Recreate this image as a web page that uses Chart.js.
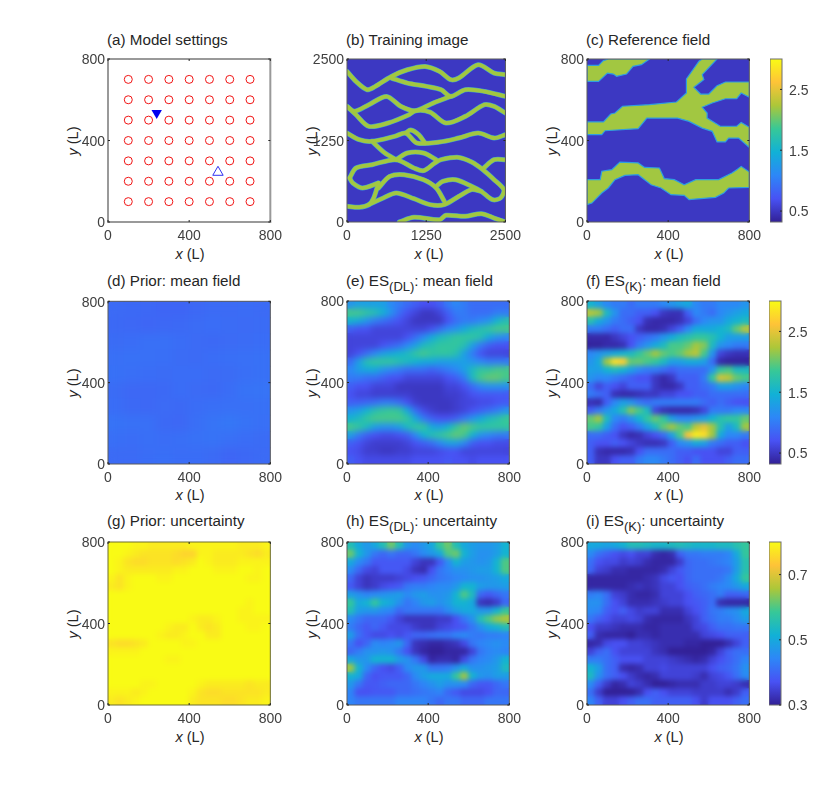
<!DOCTYPE html>
<html>
<head>
<meta charset="utf-8">
<style>
  html, body { margin: 0; padding: 0; background: #fff; }
  body { width: 830px; height: 792px; position: relative; overflow: hidden; font-family: "Liberation Sans", Arial, sans-serif; color: #262626; }
  canvas { position: absolute; }
  .lab { position: absolute; font-size: 14.5px; line-height: 16px; white-space: nowrap; }
  .title { font-size: 15.2px; }
  .lab sub { font-size: 13px; line-height: 0; vertical-align: -5px; }
  .ylab { transform: translate(-50%, -50%) rotate(-90deg); }
  .xlab { transform: translate(-50%, -50%); }
</style>
<script src="https://cdn.jsdelivr.net/npm/chart.js@4"></script>
</head>
<body>
<script>
// tick labels
const fieldTicks = [0, 400, 800];
const trainingTicks = [0, 1250, 2500];
const meanBarTicks = [0.5, 1.5, 2.5];
const uncBarTicks = [0.3, 0.5, 0.7];

// colour ranges
const meanRange = [0.32, 3.0];
const uncRange = [0.3, 0.8];

// (a) model settings
const wellX = [100, 200, 300, 400, 500, 600, 700];
const wellY = [700, 600, 500, 400, 300, 200, 100];
const injector = [240, 535];
const observer = [542, 244];

// (b) training image channels, data units
const chanA = [[0,2310],[142,2156],[319,2029],[446,2080],[700,2233],[953,2335],[1232,2386],[1460,2310],[1638,2182],[1764,2208],[2069,2412],[2322,2284],[2500,2259]];
const chanB = [[700,2208],[953,2131],[1257,2080],[1486,2029],[1638,1926],[1866,2029],[2170,2003],[2500,1926]];
const chanC = [[0,1773],[117,1697],[345,1799],[624,1926],[852,1773],[1080,1707],[1359,1824],[1638,1926]];
const chanD = [[0,1773],[142,1645],[345,1467],[649,1518],[979,1645],[1080,1707],[1308,1686],[1562,1518],[1866,1620],[2170,1799],[2322,1773],[2500,1671]];
const chanE = [[0,1364],[193,1262],[395,1237],[750,1313],[928,1364],[1105,1211],[1460,1226],[1764,1288],[2069,1364],[2322,1288],[2500,1339]];
const chanF = [[928,1364],[1004,1410],[1131,1339],[1232,1211]];
const chanG = [[395,1237],[598,1058],[776,956]];
const chanH = [[41,675],[142,828],[395,879],[776,956],[1055,828],[1207,787],[1384,904],[1486,956],[1764,991],[1967,920],[2145,802],[2322,649],[2474,496],[2423,368],[2297,342],[2119,470],[1967,547],[1714,649],[1511,623],[1409,547]];
const chanI = [[776,956],[953,1058],[1207,1058],[1409,956]];
const chanJ = [[2145,818],[2322,956],[2500,956]];
const chanK = [[41,675],[91,598],[243,521],[497,598]];
const chanL = [[497,598],[421,368],[345,266],[193,225],[0,240]];
const chanM = [[497,521],[674,700],[902,726],[1207,649],[1409,521],[1536,317]];
const chanN = [[345,266],[573,368],[776,445],[1055,358],[1308,266],[1536,266],[1764,393],[1967,496],[2119,470]];
const chanQ = [[826,0],[1055,72],[1460,36],[1562,102],[1866,87],[2119,128],[2322,61],[2500,0]];

// (c) reference field channel outlines, data units
const refTop = [[0,769],[57,769],[81,792],[105,800],[308,800],[268,772],[227,764],[195,726],[146,715],[130,726],[101,731],[57,690],[0,690],[0,769]];
const refMid = [[0,491],[81,491],[117,530],[138,535],[175,568],[308,576],[441,589],[490,633],[490,702],[552,789],[568,800],[641,800],[568,723],[576,699],[527,661],[560,628],[600,628],[641,669],[682,687],[800,687],[800,612],[760,633],[738,605],[682,605],[617,584],[568,563],[592,535],[592,510],[657,470],[738,470],[760,489],[800,465],[800,366],[747,412],[698,412],[682,393],[641,393],[617,445],[568,461],[503,494],[446,510],[295,510],[252,458],[89,448],[73,429],[0,429],[0,491]];
const refLow = [[0,208],[65,208],[73,249],[122,257],[162,294],[252,290],[284,268],[357,265],[381,213],[430,208],[479,183],[536,208],[649,208],[714,240],[738,257],[760,273],[800,245],[800,170],[698,167],[674,142],[633,121],[503,110],[479,131],[414,134],[365,167],[316,183],[252,232],[187,229],[138,208],[105,167],[73,142],[24,93],[0,85],[0,208]];
const refBackground = 0.5;
const refChannel = 2.2;
const trainBackground = 0.5;
const trainChannel = 2.2;

// (d) prior mean, rows from top to bottom
const priorMean = [
  [0.88,0.87,0.86,0.84,0.84,0.86,0.88,0.88,0.89,0.88],
  [0.87,0.86,0.85,0.86,0.87,0.89,0.90,0.89,0.88,0.89],
  [0.89,0.90,0.92,0.92,0.90,0.88,0.87,0.88,0.89,0.90],
  [0.92,0.93,0.92,0.91,0.89,0.88,0.90,0.91,0.92,0.93],
  [0.93,0.91,0.90,0.89,0.90,0.90,0.88,0.89,0.91,0.93],
  [0.89,0.86,0.86,0.87,0.90,0.88,0.87,0.90,0.94,0.95],
  [0.90,0.87,0.86,0.88,0.87,0.90,0.91,0.92,0.92,0.93],
  [0.94,0.93,0.92,0.87,0.86,0.91,0.95,0.97,0.94,0.92],
  [0.91,0.90,0.91,0.90,0.91,0.93,0.94,0.92,0.90,0.89],
  [0.88,0.88,0.90,0.91,0.90,0.90,0.88,0.85,0.86,0.88]
];

// (e) ES(DL) mean
const dlMean = [
  [1.2,1.3,1.3,1.3,1.3,1.1,1.0,0.9,0.8,0.7,0.7,0.8,1.0,1.1,1.0,0.9,0.9,0.9,0.9,0.9],
  [1.9,1.9,1.8,1.7,1.5,1.2,0.9,0.7,0.6,0.5,0.5,0.6,0.8,1.0,1.0,0.9,0.9,0.9,1.0,1.0],
  [1.5,1.4,1.2,1.0,0.9,0.8,0.7,0.6,0.5,0.5,0.5,0.5,0.7,0.9,1.0,1.0,1.1,1.2,1.5,1.7],
  [0.8,0.7,0.7,0.6,0.6,0.6,0.6,0.6,0.6,0.6,0.7,0.9,1.1,1.2,1.4,1.6,1.7,1.8,1.9,1.9],
  [0.6,0.6,0.6,0.6,0.6,0.6,0.6,0.7,0.9,1.1,1.4,1.6,1.7,1.8,1.8,1.8,1.7,1.4,1.2,1.1],
  [0.6,0.6,0.6,0.6,0.7,0.8,0.9,1.1,1.3,1.6,1.7,1.8,1.8,1.8,1.7,1.3,1.0,0.8,0.7,0.7],
  [0.6,0.7,0.9,1.1,1.3,1.4,1.5,1.6,1.8,1.9,1.8,1.8,1.8,1.7,1.3,1.0,0.7,0.6,0.6,0.6],
  [0.9,1.3,1.7,1.8,1.8,1.8,1.7,1.6,1.5,1.4,1.4,1.3,1.3,1.3,1.3,1.2,1.1,1.0,1.0,1.0],
  [1.1,1.3,1.4,1.4,1.2,1.1,1.0,0.9,0.9,0.9,0.8,0.9,1.0,1.1,1.3,1.6,1.8,1.8,1.9,1.9],
  [1.0,1.0,0.9,0.9,0.8,0.7,0.7,0.6,0.6,0.6,0.6,0.6,0.7,0.8,1.0,1.6,1.9,2.0,2.0,1.9],
  [0.8,0.7,0.7,0.6,0.6,0.6,0.5,0.5,0.5,0.5,0.5,0.5,0.6,0.6,0.7,0.9,1.1,1.2,1.2,1.2],
  [0.7,0.6,0.6,0.55,0.55,0.55,0.55,0.55,0.5,0.5,0.5,0.5,0.55,0.55,0.6,0.7,0.75,0.75,0.75,0.75],
  [0.8,0.8,0.85,0.9,1.0,1.0,0.9,0.7,0.55,0.5,0.5,0.5,0.5,0.55,0.6,0.6,0.65,0.65,0.7,0.75],
  [1.2,1.3,1.5,1.7,1.8,1.85,1.8,1.4,0.9,0.65,0.55,0.5,0.5,0.55,0.6,0.7,0.8,0.9,1.0,1.2],
  [1.5,1.6,1.8,1.9,1.9,1.9,1.9,1.8,1.4,1.0,0.8,0.7,0.7,0.8,1.0,1.2,1.4,1.6,1.7,1.85],
  [1.9,1.8,1.6,1.3,1.2,1.2,1.3,1.6,1.8,1.8,1.4,1.3,1.5,1.8,2.0,1.9,1.8,1.8,1.8,1.8],
  [1.3,1.0,0.8,0.7,0.65,0.65,0.7,0.8,1.1,1.5,1.7,1.8,1.9,2.0,1.9,1.5,1.2,1.1,1.0,1.0],
  [0.8,0.7,0.6,0.55,0.55,0.55,0.55,0.6,0.7,0.8,0.9,1.1,1.3,1.3,1.1,0.8,0.7,0.7,0.65,0.65],
  [0.7,0.65,0.55,0.55,0.5,0.5,0.55,0.55,0.6,0.6,0.6,0.65,0.7,0.7,0.6,0.6,0.6,0.6,0.6,0.6],
  [0.8,0.7,0.65,0.65,0.65,0.65,0.65,0.65,0.7,0.7,0.7,0.7,0.75,0.7,0.7,0.65,0.7,0.7,0.7,0.7]
];

// (f) ES(K) mean
const kMean = [
  [1.5,1.3,1.1,1.0,1.0,0.9,1.0,1.0,1.0,1.1,1.2,1.3,1.4,1.1,1.0,1.0,1.1,1.1,1.1,1.2],
  [2.3,2.2,1.6,1.2,0.9,0.9,0.8,0.8,0.7,0.5,0.45,0.45,0.8,1.1,1.0,0.9,1.1,1.2,1.3,1.4],
  [1.7,1.4,1.2,1.0,0.9,0.8,0.7,0.45,0.4,0.4,0.4,0.45,0.6,0.9,1.1,1.2,1.2,1.4,1.5,1.6],
  [1.0,1.0,0.9,0.8,0.9,0.9,0.5,0.4,0.4,0.45,0.6,0.8,1.1,1.4,1.4,1.4,1.5,1.6,2.0,2.3],
  [0.4,0.4,0.4,0.5,0.6,0.7,0.8,0.9,1.0,1.2,1.4,1.6,1.7,1.8,1.8,1.7,1.5,1.3,1.3,1.3],
  [0.35,0.35,0.4,0.4,0.45,0.7,1.0,1.2,1.4,1.6,1.9,1.9,2.0,2.2,2.1,1.6,1.2,1.1,1.0,1.0],
  [1.1,1.2,1.3,1.4,1.5,1.6,1.8,2.0,2.2,2.0,1.9,2.0,2.2,2.3,1.9,1.2,0.6,0.5,0.45,0.45],
  [1.2,1.4,2.2,2.8,2.7,2.0,2.0,1.9,1.8,1.6,1.3,1.3,1.4,1.4,1.3,0.9,0.4,0.35,0.35,0.35],
  [1.3,1.3,1.5,1.6,1.5,1.3,1.1,1.0,1.0,0.9,0.8,0.9,0.9,0.9,0.9,1.2,1.8,1.9,1.6,1.6],
  [1.2,1.1,1.1,1.0,0.9,0.8,0.7,0.7,0.5,0.4,0.5,0.8,0.8,0.8,1.0,1.8,2.4,2.3,2.0,1.9],
  [0.9,0.6,0.8,0.7,0.6,0.8,0.8,0.8,0.5,0.4,0.4,0.5,0.8,0.8,0.9,1.0,1.3,1.3,1.2,1.1],
  [1.0,0.9,0.8,0.45,0.4,0.4,0.45,0.5,0.5,0.6,0.6,0.7,0.7,0.8,0.8,0.9,0.9,0.9,0.9,0.9],
  [0.45,0.4,0.8,1.1,1.3,1.2,1.0,0.9,1.0,1.0,1.0,1.0,1.0,1.0,0.9,0.8,0.9,0.8,0.7,0.7],
  [0.8,1.0,1.2,1.4,1.7,2.1,1.9,1.6,0.6,0.45,0.4,0.4,0.4,0.45,0.6,1.0,1.0,1.0,1.1,1.1],
  [2.0,2.2,1.6,1.1,1.0,1.2,1.5,1.8,2.0,1.8,1.3,1.1,1.1,1.2,1.3,1.5,1.7,1.8,1.8,2.0],
  [1.9,1.8,1.3,0.9,0.7,0.8,1.0,1.3,1.6,2.0,2.2,2.0,1.9,2.3,2.5,2.2,1.7,1.3,1.6,2.2],
  [0.9,0.9,0.8,0.7,0.5,0.4,0.45,0.6,0.7,0.9,1.3,1.9,2.6,2.9,2.8,2.2,1.4,1.1,1.1,1.0],
  [0.8,0.7,0.7,0.8,0.7,0.6,0.5,0.45,0.45,0.5,0.8,1.1,1.2,1.4,1.3,1.0,0.9,0.8,0.8,0.7],
  [0.8,0.45,0.4,0.4,0.4,0.45,0.7,0.9,0.9,0.9,0.9,0.8,0.8,0.7,0.7,0.7,0.6,0.6,0.8,0.8],
  [0.8,0.5,0.5,0.7,0.8,0.8,1.0,1.1,1.1,1.0,0.9,0.8,0.7,0.9,0.7,0.7,0.7,0.8,0.9,0.9]
];

// (g) prior uncertainty
const priorUnc = [
  [.80,.80,.80,.79,.79,.78,.78,.78,.78,.78,.79,.79,.79,.79,.79,.79,.78,.78,.78,.79],
  [.80,.80,.79,.78,.77,.77,.77,.77,.76,.75,.75,.79,.79,.78,.78,.78,.78,.77,.76,.78],
  [.80,.79,.77,.76,.76,.77,.77,.77,.76,.77,.78,.80,.79,.78,.78,.78,.79,.79,.79,.79],
  [.80,.79,.78,.78,.78,.78,.78,.78,.79,.79,.80,.80,.80,.79,.79,.79,.80,.80,.79,.80],
  [.79,.77,.79,.80,.80,.80,.79,.79,.80,.80,.80,.80,.80,.80,.80,.80,.80,.79,.79,.80],
  [.78,.77,.79,.80,.80,.80,.80,.80,.80,.80,.80,.80,.80,.80,.80,.80,.80,.80,.80,.80],
  [.80,.80,.80,.80,.80,.80,.80,.80,.80,.80,.80,.80,.80,.80,.80,.80,.80,.80,.80,.80],
  [.80,.80,.80,.80,.80,.80,.80,.80,.80,.80,.80,.80,.80,.80,.80,.80,.80,.79,.80,.80],
  [.80,.80,.80,.80,.80,.80,.80,.80,.80,.80,.80,.80,.80,.80,.80,.80,.79,.79,.80,.80],
  [.80,.80,.80,.80,.80,.80,.80,.80,.80,.80,.79,.78,.78,.79,.80,.80,.79,.79,.79,.79],
  [.80,.80,.80,.80,.80,.80,.80,.79,.78,.78,.80,.78,.77,.78,.80,.80,.80,.79,.79,.80],
  [.80,.80,.80,.80,.80,.80,.79,.78,.78,.79,.80,.80,.78,.78,.80,.80,.80,.80,.80,.80],
  [.77,.76,.76,.77,.78,.80,.80,.80,.80,.79,.79,.80,.80,.80,.80,.80,.80,.80,.80,.80],
  [.79,.79,.79,.79,.80,.80,.80,.80,.80,.80,.80,.80,.80,.80,.80,.80,.80,.80,.80,.80],
  [.80,.80,.80,.80,.80,.80,.80,.79,.79,.80,.80,.80,.80,.80,.80,.80,.80,.80,.80,.80],
  [.80,.80,.80,.80,.80,.80,.80,.80,.80,.80,.80,.80,.80,.80,.80,.80,.80,.80,.80,.80],
  [.80,.80,.80,.80,.80,.80,.80,.80,.80,.80,.80,.80,.80,.80,.80,.80,.80,.80,.80,.80],
  [.80,.80,.80,.80,.79,.79,.80,.80,.80,.80,.80,.79,.78,.78,.78,.78,.78,.77,.78,.78],
  [.79,.79,.79,.78,.79,.80,.80,.80,.80,.80,.79,.77,.76,.76,.77,.77,.77,.77,.77,.78],
  [.78,.77,.78,.79,.80,.80,.80,.80,.80,.80,.78,.77,.77,.77,.76,.76,.77,.78,.78,.79]
];

// (h) ES(DL) uncertainty
const dlUnc = [
  [.55,.50,.47,.50,.55,.62,.55,.47,.45,.47,.50,.58,.62,.55,.50,.48,.47,.47,.48,.52],
  [.62,.52,.47,.42,.40,.42,.40,.40,.42,.45,.47,.50,.60,.62,.52,.48,.46,.46,.48,.52],
  [.50,.45,.42,.38,.38,.38,.38,.38,.35,.33,.33,.38,.45,.52,.48,.47,.46,.47,.52,.60],
  [.45,.40,.36,.35,.38,.38,.38,.36,.33,.32,.37,.42,.44,.46,.46,.47,.48,.48,.52,.60],
  [.40,.35,.33,.34,.34,.34,.35,.36,.37,.38,.40,.42,.43,.44,.45,.46,.46,.47,.48,.50],
  [.38,.35,.33,.34,.36,.37,.38,.42,.43,.43,.44,.45,.45,.47,.52,.52,.48,.47,.47,.48],
  [.48,.46,.44,.45,.46,.47,.48,.45,.47,.48,.46,.46,.47,.52,.60,.54,.40,.38,.40,.42],
  [.58,.50,.52,.58,.52,.50,.46,.42,.44,.47,.48,.46,.48,.52,.52,.50,.33,.32,.34,.40],
  [.55,.48,.47,.47,.45,.44,.40,.42,.42,.42,.42,.42,.45,.48,.50,.50,.47,.47,.52,.58],
  [.45,.42,.40,.40,.40,.38,.35,.33,.33,.33,.33,.34,.34,.37,.42,.46,.55,.60,.64,.66],
  [.43,.40,.38,.40,.38,.36,.36,.36,.34,.33,.33,.35,.36,.37,.38,.42,.46,.50,.52,.55],
  [.48,.41,.38,.36,.36,.37,.36,.38,.40,.40,.41,.42,.42,.44,.45,.43,.42,.43,.43,.44],
  [.42,.37,.40,.45,.44,.45,.47,.40,.33,.32,.31,.31,.32,.33,.36,.42,.44,.45,.46,.45],
  [.40,.43,.46,.46,.47,.46,.42,.37,.33,.31,.30,.30,.31,.31,.31,.35,.42,.44,.45,.44],
  [.50,.47,.47,.52,.52,.52,.48,.46,.42,.36,.31,.32,.32,.31,.36,.42,.44,.45,.47,.52],
  [.65,.52,.45,.40,.37,.36,.39,.45,.47,.47,.42,.42,.43,.46,.50,.46,.46,.47,.48,.54],
  [.52,.50,.40,.37,.38,.38,.38,.40,.45,.48,.50,.50,.50,.58,.65,.52,.47,.46,.48,.48],
  [.47,.42,.38,.38,.39,.40,.40,.40,.42,.44,.46,.48,.46,.46,.45,.40,.38,.38,.40,.42],
  [.44,.37,.37,.38,.38,.38,.40,.40,.41,.42,.43,.44,.40,.38,.36,.36,.36,.37,.40,.40],
  [.44,.42,.42,.42,.42,.42,.44,.44,.44,.44,.42,.40,.42,.42,.40,.40,.40,.42,.42,.42]
];

// (i) ES(K) uncertainty
const kUnc = [
  [.50,.50,.49,.50,.52,.55,.55,.54,.53,.53,.54,.55,.54,.53,.53,.53,.54,.54,.56,.58],
  [.45,.41,.39,.37,.36,.37,.35,.35,.32,.31,.32,.39,.42,.42,.43,.43,.43,.44,.50,.58],
  [.41,.37,.36,.36,.34,.35,.34,.32,.31,.31,.31,.34,.40,.41,.41,.42,.43,.44,.48,.56],
  [.40,.35,.34,.32,.32,.31,.31,.31,.31,.32,.35,.38,.40,.41,.41,.41,.41,.42,.48,.56],
  [.31,.31,.31,.31,.31,.31,.31,.32,.33,.36,.38,.37,.40,.41,.41,.41,.42,.45,.50,.58],
  [.31,.31,.31,.31,.31,.32,.33,.32,.33,.35,.35,.37,.39,.40,.41,.43,.44,.45,.47,.50],
  [.43,.44,.41,.35,.34,.32,.31,.31,.32,.35,.35,.35,.37,.39,.40,.41,.43,.39,.39,.40],
  [.46,.46,.41,.37,.35,.32,.32,.32,.33,.34,.35,.35,.37,.38,.39,.41,.32,.31,.31,.31],
  [.45,.44,.39,.37,.39,.36,.34,.35,.35,.32,.32,.32,.35,.37,.39,.42,.43,.45,.46,.50],
  [.42,.39,.37,.35,.35,.36,.35,.32,.31,.31,.31,.31,.33,.35,.39,.41,.43,.43,.45,.48],
  [.37,.34,.34,.33,.32,.32,.32,.31,.31,.32,.32,.32,.32,.35,.36,.39,.41,.41,.42,.42],
  [.39,.32,.31,.31,.31,.30,.32,.32,.31,.32,.32,.32,.32,.32,.35,.36,.37,.39,.39,.39],
  [.31,.32,.36,.37,.37,.35,.35,.34,.33,.32,.32,.32,.31,.31,.30,.30,.30,.32,.35,.39],
  [.35,.39,.41,.37,.35,.35,.35,.35,.33,.32,.30,.30,.30,.30,.30,.31,.35,.39,.41,.41],
  [.43,.43,.41,.39,.37,.37,.37,.35,.35,.35,.34,.33,.32,.31,.32,.35,.37,.39,.41,.44],
  [.52,.48,.41,.39,.32,.31,.32,.35,.35,.36,.35,.35,.35,.35,.35,.37,.39,.40,.42,.46],
  [.54,.46,.41,.39,.37,.34,.32,.31,.32,.35,.35,.35,.35,.34,.32,.35,.36,.38,.41,.45],
  [.45,.39,.34,.31,.32,.35,.34,.32,.30,.30,.31,.32,.32,.32,.34,.34,.35,.35,.34,.32],
  [.41,.34,.30,.30,.30,.30,.32,.37,.39,.37,.35,.35,.35,.34,.34,.34,.34,.32,.34,.39],
  [.44,.39,.35,.35,.37,.39,.41,.41,.39,.39,.39,.39,.39,.37,.34,.37,.37,.37,.39,.41]
];

// parula
const parula = [[50,32,150],[72,82,244],[45,135,247],[17,177,214],[55,200,151],[172,199,57],[254,195,56],[249,251,21]];

function colorOf(v, range) {
  let t = (v - range[0]) / (range[1] - range[0]);
  t = Math.max(0, Math.min(1, t)) * (parula.length - 1);
  const i = Math.min(Math.floor(t), parula.length - 2);
  const f = t - i;
  const c = parula[i].map((p, k) => Math.round(p + (parula[i + 1][k] - p) * f));
  return `rgb(${c[0]},${c[1]},${c[2]})`;
}

Chart.defaults.font.family = "'Liberation Sans', Arial, sans-serif";
Chart.defaults.font.size = 14;
Chart.defaults.color = "#404040";
Chart.defaults.animation = false;

const leftGap = 50, topGap = 12, rightGap = 16, bottomGap = 32;
const plotW = 164, plotH = 163;

function addLabel(html, x, y, cls) {
  const d = document.createElement("div");
  d.className = "lab " + (cls || "");
  d.innerHTML = html;
  d.style.left = x + "px";
  d.style.top = y + "px";
  document.body.appendChild(d);
}

function newCanvas(left, top, w, h) {
  const c = document.createElement("canvas");
  c.width = w;
  c.height = h;
  c.style.left = left + "px";
  c.style.top = top + "px";
  c.style.width = w + "px";
  c.style.height = h + "px";
  document.body.appendChild(c);
  return c;
}

// fills the plot, softens the cells and draws the box with inward ticks
function panelPlugin(o) {
  return {
    id: "panel",
    beforeDatasetsDraw(chart) {
      if (!o.background) return;
      const a = chart.chartArea, c = chart.ctx;
      c.fillStyle = o.background;
      c.fillRect(a.left, a.top, a.width, a.height);
    },
    afterDatasetsDraw(chart) {
      if (!o.blur) return;
      const a = chart.chartArea, c = chart.ctx, r = chart.currentDevicePixelRatio;
      c.save();
      c.beginPath();
      c.rect(a.left, a.top, a.width, a.height);
      c.clip();
      c.filter = `blur(${o.blur}px)`;
      c.drawImage(chart.canvas, a.left * r, a.top * r, a.width * r, a.height * r, a.left, a.top, a.width, a.height);
      c.restore();
    },
    afterDraw(chart) {
      const a = chart.chartArea, c = chart.ctx;
      c.save();
      c.strokeStyle = o.frameColor;
      c.lineWidth = o.frameWidth;
      c.strokeRect(a.left, a.top, a.width, a.height);
      c.strokeStyle = "#262626";
      c.lineWidth = 1;
      c.beginPath();
      if (chart.scales.x.options.display) {
        chart.scales.x.ticks.forEach(t => {
          const p = chart.scales.x.getPixelForValue(t.value);
          c.moveTo(p, a.bottom); c.lineTo(p, a.bottom - 2);
          c.moveTo(p, a.top); c.lineTo(p, a.top + 2);
        });
      }
      chart.scales.y.ticks.forEach(t => {
        const p = chart.scales.y.getPixelForValue(t.value);
        if (chart.scales.x.options.display) {
          c.moveTo(a.left, p); c.lineTo(a.left + 2, p);
        }
        c.moveTo(a.right, p); c.lineTo(a.right - 2, p);
      });
      c.stroke();
      c.restore();
    }
  };
}

function axis(ticks, max, fitKey, fitValue, position) {
  return {
    type: "linear",
    position: position,
    min: 0,
    max: max,
    grid: { display: false, drawTicks: false },
    border: { display: false },
    afterBuildTicks(s) { s.ticks = ticks.map(v => ({ value: v })); },
    afterFit(s) { s[fitKey] = fitValue; },
    ticks: {
      padding: fitKey === "height" ? 6 : 3,
      labelOffset: fitKey === "height" ? 0 : 1.5,
      autoSkip: false,
      maxRotation: 0,
      color: "#404040",
      callback: v => String(v)
    }
  };
}

function makePanel(box, datasets, ticks, max, opts) {
  const cv = newCanvas(box.x - leftGap, box.y - topGap, leftGap + box.w + rightGap, topGap + box.h + bottomGap);
  return new Chart(cv, {
    type: "scatter",
    data: { datasets: datasets },
    options: {
      responsive: false,
      layout: { padding: { top: topGap, right: rightGap, left: 0, bottom: 0 } },
      plugins: { legend: { display: false }, tooltip: { enabled: false } },
      scales: {
        x: axis(ticks, max, "height", bottomGap, "bottom"),
        y: axis(ticks, max, "width", leftGap, "left")
      }
    },
    plugins: [panelPlugin(opts)]
  });
}

// one square point per grid cell, coloured by its value
function fieldDataset(grid, range) {
  const n = grid.length;
  const pts = [], cols = [];
  grid.forEach((row, i) => row.forEach((v, j) => {
    pts.push({ x: (j + 0.5) * 800 / row.length, y: 800 - (i + 0.5) * 800 / n });
    cols.push(colorOf(v, range));
  }));
  return {
    data: pts,
    pointStyle: "rect",
    pointBackgroundColor: cols,
    pointBorderWidth: 0,
    clip: 0,
    pointRadius: (plotW / n + 1) / Math.SQRT2
  };
}

function toPoints(list) {
  return list.map(p => ({ x: p[0], y: p[1] }));
}

function colorBar(box, range, ticks) {
  const cv = newCanvas(box.x, box.y - topGap, box.w + 44, topGap + box.h + 10);
  new Chart(cv, {
    type: "bar",
    data: {
      labels: ["c"],
      datasets: [{
        data: [[range[0], range[1]]],
        barPercentage: 1,
        categoryPercentage: 1,
        backgroundColor(ctx) {
          const a = ctx.chart.chartArea;
          if (!a) return "#888";
          const g = ctx.chart.ctx.createLinearGradient(0, a.bottom, 0, a.top);
          parula.forEach((c, i) => g.addColorStop(i / (parula.length - 1), `rgb(${c[0]},${c[1]},${c[2]})`));
          return g;
        }
      }]
    },
    options: {
      responsive: false,
      layout: { padding: { top: topGap, bottom: 10 } },
      plugins: { legend: { display: false }, tooltip: { enabled: false } },
      scales: {
        x: { display: false, offset: true },
        y: {
          position: "right",
          min: range[0],
          max: range[1],
          grid: { display: false, drawTicks: false },
          border: { display: false },
          afterBuildTicks(s) { s.ticks = ticks.map(v => ({ value: v })); },
          afterFit(s) { s.width = 44; s.paddingTop = 0; s.paddingBottom = 0; },
          ticks: { padding: 7, labelOffset: 1.5, color: "#404040", callback: v => v.toFixed(1) }
        }
      }
    },
    plugins: [panelPlugin({ frameColor: "#6e6e6e", frameWidth: 1 })]
  });
}

const colLeft = [108, 347, 587];
const rowTop = [59, 301, 542];
const boxOf = (c, r) => ({ x: colLeft[c], y: rowTop[r], w: plotW, h: plotH });

const titles = [
  "(a) Model settings", "(b) Training image", "(c) Reference field",
  "(d) Prior: mean field", "(e) ES<sub>(DL)</sub>: mean field", "(f) ES<sub>(K)</sub>: mean field",
  "(g) Prior: uncertainty", "(h) ES<sub>(DL)</sub>: uncertainty", "(i) ES<sub>(K)</sub>: uncertainty"
];
const titleTop = [32, 273, 513];
const xLabelMid = [254, 495, 737];

rowTop.forEach((_, r) => colLeft.forEach((_, c) => {
  const b = boxOf(c, r);
  addLabel(titles[r * 3 + c], b.x - 1, titleTop[r], "title");
  addLabel("<i>x</i> (L)", b.x + plotW / 2, xLabelMid[r], "xlab");
  addLabel("<i>y</i> (L)", b.x - 35, b.y + plotH / 2, "ylab");
}));

// (a)
const wellPts = [];
wellY.forEach(y => wellX.forEach(x => wellPts.push({ x: x, y: y })));
makePanel(boxOf(0, 0), [
  { data: [{ x: injector[0], y: injector[1] }], pointStyle: "triangle", pointRotation: 180, pointRadius: 6, pointBorderWidth: 0, pointBackgroundColor: "#0000f0" },
  { data: [{ x: observer[0], y: observer[1] }], pointStyle: "triangle", pointRadius: 6, pointBorderWidth: 1, pointBorderColor: "#3030f0", pointBackgroundColor: "rgba(0,0,0,0)" },
  { data: wellPts, pointStyle: "circle", pointRadius: 4, pointBorderWidth: 1, pointBorderColor: "#f01414", pointBackgroundColor: "rgba(0,0,0,0)" }
], fieldTicks, 800, { frameColor: "#999999", frameWidth: 2 });

// (b) first dataset is painted last, so the green goes first
const channels = [chanA, chanB, chanC, chanD, chanE, chanF, chanG, chanH, chanI, chanJ, chanK, chanL, chanM, chanN, chanQ];
const chanStyle = (list, color, w) => ({ data: toPoints(list), showLine: true, tension: 0.3, pointRadius: 0, borderColor: color, borderWidth: w, borderJoinStyle: "round", borderCapStyle: "round" });
makePanel(boxOf(1, 0),
  channels.map(l => chanStyle(l, colorOf(trainChannel, meanRange), 4)).concat(channels.map(l => chanStyle(l, "#3f9fd0", 5))),
  trainingTicks, 2500, { background: colorOf(trainBackground, meanRange), frameColor: "#5a5a5a", frameWidth: 1 });

// (c)
makePanel(boxOf(2, 0), [refTop, refMid, refLow].map(l => ({
  data: toPoints(l), showLine: true, pointRadius: 0, fill: "shape",
  backgroundColor: colorOf(refChannel, meanRange), borderColor: "#2f9fe0", borderWidth: 1.2
})), fieldTicks, 800, { background: colorOf(refBackground, meanRange), frameColor: "#5a5a5a", frameWidth: 1 });
colorBar({ x: 770, y: 59, w: 12, h: plotH }, meanRange, meanBarTicks);

// (d)-(f)
makePanel(boxOf(0, 1), [fieldDataset(priorMean, meanRange)], fieldTicks, 800, { blur: 5, frameColor: "#5a5a5a", frameWidth: 1 });
makePanel(boxOf(1, 1), [fieldDataset(dlMean, meanRange)], fieldTicks, 800, { blur: 3, frameColor: "#5a5a5a", frameWidth: 1 });
makePanel(boxOf(2, 1), [fieldDataset(kMean, meanRange)], fieldTicks, 800, { blur: 2.6, frameColor: "#5a5a5a", frameWidth: 1 });
colorBar({ x: 769, y: 301, w: 12, h: plotH }, meanRange, meanBarTicks);

// (g)-(i)
makePanel(boxOf(0, 2), [fieldDataset(priorUnc, uncRange)], fieldTicks, 800, { blur: 2.5, frameColor: "#6e6e30", frameWidth: 1 });
makePanel(boxOf(1, 2), [fieldDataset(dlUnc, uncRange)], fieldTicks, 800, { blur: 2.6, frameColor: "#5a5a5a", frameWidth: 1 });
makePanel(boxOf(2, 2), [fieldDataset(kUnc, uncRange)], fieldTicks, 800, { blur: 2.6, frameColor: "#5a5a5a", frameWidth: 1 });
colorBar({ x: 769, y: 542, w: 12, h: plotH }, uncRange, uncBarTicks);
</script>
</body>
</html>
